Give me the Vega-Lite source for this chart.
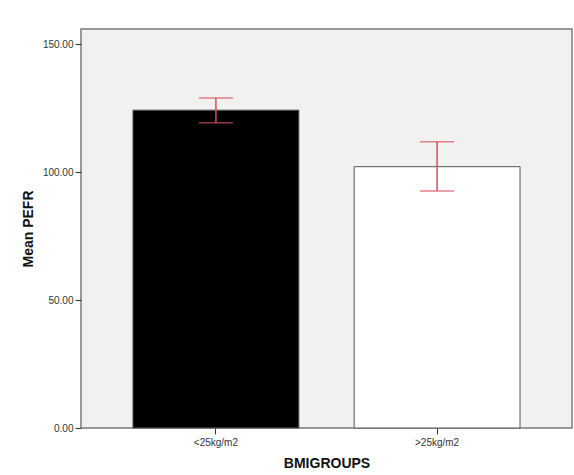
{
  "$schema": "https://vega.github.io/schema/vega-lite/v6.json",
  "autosize": "none",
  "width": 491,
  "height": 399,
  "padding": {"left": 81, "top": 29, "right": 2, "bottom": 47},
  "background": "white",
  "data": {"values": [
    {"group": "<25kg/m2", "mean": 124.2, "low": 119.3, "high": 128.9, "fillc": "black"},
    {"group": ">25kg/m2", "mean": 102.1, "low": 92.6, "high": 111.8, "fillc": "white"}
  ]},
  "config": {
    "view": {"fill": "#f1f1f1", "stroke": "#7a7a7a", "strokeWidth": 1.5},
    "font": "Liberation Sans",
    "axis": {"grid": false, "domain": false, "labelColor": "#333", "labelFontSize": 10, "tickColor": "#333", "tickSize": 6, "titleColor": "#111", "titleFontSize": 14, "titleFontWeight": "bold", "labelFont": "Liberation Sans", "titleFont": "Liberation Sans"}
  },
  "encoding": {
    "x": {"field": "group", "type": "nominal", "sort": null,
      "scale": {"paddingInner": 0.25, "paddingOuter": 0.235},
      "axis": {"title": "BMIGROUPS", "labelAngle": 0, "labelPadding": 3, "titlePadding": 9}}
  },
  "layer": [
    {
      "mark": {"type": "bar", "stroke": "#555", "strokeWidth": 1},
      "encoding": {
        "y": {"field": "mean", "type": "quantitative",
          "scale": {"domain": [0, 155.9], "nice": false},
          "axis": {"title": "Mean PEFR", "values": [0, 50, 100, 150], "format": ".2f", "labelPadding": 2, "titlePadding": 7}},
        "fill": {"field": "fillc", "type": "nominal", "scale": null}
      }
    },
    {
      "mark": {"type": "rule", "color": "#d9505a", "strokeWidth": 1.5},
      "encoding": {
        "y": {"field": "low", "type": "quantitative"},
        "y2": {"field": "high"}
      }
    },
    {
      "mark": {"type": "tick", "color": "#d9505a", "thickness": 1.5, "size": 34},
      "encoding": {"y": {"field": "low", "type": "quantitative"}}
    },
    {
      "mark": {"type": "tick", "color": "#d9505a", "thickness": 1.5, "size": 34},
      "encoding": {"y": {"field": "high", "type": "quantitative"}}
    }
  ]
}
